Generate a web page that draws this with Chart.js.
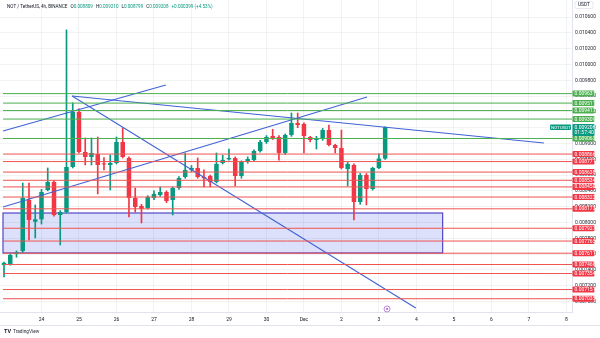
<!DOCTYPE html>
<html>
<head>
<meta charset="utf-8">
<title>NOT / TetherUS 4h</title>
<script src="https://cdn.jsdelivr.net/npm/chart.js@4.4.1/dist/chart.umd.min.js"></script>
<style>
  html, body { margin: 0; padding: 0; background: #ffffff; }
  #wrap { position: relative; width: 600px; height: 338px; }
  #chart { display: block; width: 600px; height: 338px; }
</style>
</head>
<body>
<div id="wrap"><canvas id="chart" width="600" height="338"></canvas></div>
<script>
// 4h candles from 23 Nov 00:00 to 3 Dec 04:00
const opens  = [0.007460,0.007475,0.007600,0.007640,0.008285,0.008010,0.008040,0.008411,0.008513,0.008095,
                0.008133,0.008703,0.009399,0.008892,0.008829,0.008867,0.008741,0.008728,0.008753,0.009019,
                0.008816,0.008310,0.008209,0.008184,0.008310,0.008348,0.008386,0.008285,0.008437,0.008576,
                0.008665,0.008690,0.008576,0.008589,0.008513,0.008753,0.008800,0.008816,0.008589,0.008766,
                0.008791,0.008905,0.009019,0.009095,0.009082,0.008880,0.009108,0.009259,0.009247,0.009082,
                0.009044,0.009057,0.009171,0.008981,0.008943,0.008677,0.008728,0.008259,0.008601,0.008424,
                0.008690,0.008809];
const highs  = [0.007500,0.007600,0.007640,0.008500,0.008500,0.008222,0.008420,0.008690,0.008530,0.008150,
                0.010437,0.009513,0.009440,0.009070,0.009070,0.009082,0.008820,0.008854,0.009082,0.009196,
                0.008830,0.008437,0.008230,0.008340,0.008400,0.008450,0.008400,0.008450,0.008580,0.008880,
                0.008720,0.008816,0.008665,0.008600,0.008880,0.008850,0.008930,0.008830,0.008780,0.008830,
                0.008920,0.009040,0.009100,0.009180,0.009100,0.009120,0.009386,0.009386,0.009260,0.009090,
                0.009090,0.009190,0.009234,0.008990,0.009170,0.008760,0.008741,0.008620,0.008620,0.008700,
                0.008870,0.009210];
const lows   = [0.007310,0.007460,0.007560,0.007620,0.007778,0.007804,0.007980,0.008400,0.008080,0.007715,
                0.008120,0.008690,0.008880,0.008728,0.008728,0.008361,0.008665,0.008411,0.008740,0.008816,
                0.008070,0.008133,0.007994,0.008170,0.008290,0.008330,0.008250,0.008095,0.008420,0.008560,
                0.008640,0.008560,0.008450,0.008450,0.008500,0.008740,0.008790,0.008462,0.008560,0.008750,
                0.008780,0.008890,0.009000,0.009050,0.008790,0.008860,0.009090,0.009200,0.008880,0.009020,
                0.008930,0.009040,0.008970,0.008880,0.008677,0.008462,0.008032,0.008230,0.008222,0.008410,
                0.008680,0.008799];
const closes = [0.007490,0.007589,0.007620,0.008310,0.008032,0.008040,0.008386,0.008513,0.008095,0.008133,
                0.008703,0.009399,0.008892,0.008829,0.008880,0.008728,0.008735,0.008753,0.009019,0.008829,
                0.008310,0.008196,0.008171,0.008323,0.008361,0.008386,0.008272,0.008437,0.008563,0.008665,
                0.008690,0.008576,0.008560,0.008513,0.008741,0.008791,0.008816,0.008589,0.008766,0.008804,
                0.008905,0.009019,0.009082,0.009070,0.008880,0.009108,0.009259,0.009234,0.009095,0.009044,
                0.009050,0.009171,0.008981,0.008943,0.008690,0.008741,0.008259,0.008601,0.008424,0.008690,
                0.008809,0.009208];

// support / resistance levels
const greenLevels = [0.009631, 0.009511, 0.009417, 0.009309, 0.009063];
const redLevels = [0.008866, 0.008771, 0.008638, 0.008534, 0.008450, 0.008322, 0.008173,
                   0.007927, 0.007765, 0.007611, 0.007468, 0.007354, 0.007151, 0.007035];

// trend lines, [candle index, price] pairs
const trendA = [[-0.16, 0.009158], [25.9, 0.009740]];
const trendB = [[10.9, 0.009601], [86.4, 0.009006]];
const trendC = [[10.9, 0.009601], [65.9, 0.006918]];
const trendD = [[-0.16, 0.008196], [58.1, 0.009589]];

// demand zone
const zoneX = [-0.16, 70.2];
const zoneY = [0.007614, 0.008120];

// axes
const priceTicks = [0.0106, 0.0104, 0.0102, 0.0100, 0.0098, 0.0096, 0.0094, 0.0092, 0.0090, 0.0088,
                    0.0086, 0.0084, 0.0082, 0.0080, 0.0078, 0.0076, 0.0074, 0.0072, 0.0070];
const dayLabels = ['24', '25', '26', '27', '28', '29', '30', 'Dec', '2', '3', '4', '5', '6', '7', '8'];
const candlesPerDay = 6;
const firstDayIndex = 6;
const dayTicks = dayLabels.map((_, k) => firstDayIndex + k * candlesPerDay);

const xMin = -0.64, xMax = 90.9;
const yMin = 0.006867, yMax = 0.010816;
const lineStart = -0.16;

const upColor = '#089981';
const downColor = '#f23645';
const greenLine = '#4caf50';
const redLine = '#ef5350';
const trendColor = '#3f63d6';

Chart.defaults.font.family = 'Roboto, "Liberation Sans", sans-serif';

const candleColor = ctx => {
  const i = ctx.dataIndex;
  return closes[i] >= opens[i] ? upColor : downColor;
};

const wicks = opens.map((o, i) => ({ x: i, y: [lows[i], highs[i]] }));
const bodies = opens.map((o, i) => ({ x: i, y: [o, closes[i]] }));

const levelSet = (levels, color) => levels.map(lvl => ({
  type: 'line',
  data: [{ x: lineStart, y: lvl }, { x: xMax, y: lvl }],
  borderColor: color,
  borderWidth: 1,
  pointRadius: 0,
  fill: false,
  order: 0
}));

const trendSet = pts => ({
  type: 'line',
  data: pts.map(p => ({ x: p[0], y: p[1] })),
  borderColor: trendColor,
  borderWidth: 1.1,
  pointRadius: 0,
  fill: false,
  order: 0
});

const datasets = [
  {
    type: 'bar',
    data: wicks,
    backgroundColor: candleColor,
    barThickness: 1,
    grouped: false,
    order: 3
  },
  {
    type: 'bar',
    data: bodies,
    backgroundColor: candleColor,
    barPercentage: 0.72,
    categoryPercentage: 1,
    minBarLength: 1,
    grouped: false,
    order: 2
  },
  ...levelSet(greenLevels, greenLine),
  ...levelSet(redLevels, redLine),
  trendSet(trendA),
  trendSet(trendB),
  trendSet(trendC),
  trendSet(trendD)
];

function roundRect(ctx, x, y, w, h, r) {
  ctx.beginPath();
  ctx.moveTo(x + r, y);
  ctx.lineTo(x + w - r, y);
  ctx.quadraticCurveTo(x + w, y, x + w, y + r);
  ctx.lineTo(x + w, y + h - r);
  ctx.quadraticCurveTo(x + w, y + h, x + w - r, y + h);
  ctx.lineTo(x + r, y + h);
  ctx.quadraticCurveTo(x, y + h, x, y + h - r);
  ctx.lineTo(x, y + r);
  ctx.quadraticCurveTo(x, y, x + r, y);
  ctx.closePath();
}

function tag(ctx, x, y, text, bg) {
  ctx.fillStyle = bg;
  roundRect(ctx, x, y - 3, 22, 6, 1);
  ctx.fill();
  ctx.fillStyle = '#ffffff';
  ctx.font = '5px Roboto, sans-serif';
  ctx.textBaseline = 'middle';
  ctx.textAlign = 'left';
  ctx.fillText(text, x + 2, y + 0.3);
}

// drop the label padding Chart.js reserves around the plot
const noPadding = s => { s.paddingLeft = 0; s.paddingRight = 0; s.paddingTop = 0; s.paddingBottom = 0; };

const overlay = {
  id: 'overlay',
  beforeDatasetsDraw(chart) {
    const { ctx, scales: { x, y } } = chart;
    const l = x.getPixelForValue(zoneX[0]), r = x.getPixelForValue(zoneX[1]);
    const t = y.getPixelForValue(zoneY[1]), b = y.getPixelForValue(zoneY[0]);
    ctx.save();
    ctx.fillStyle = 'rgba(80, 100, 230, 0.2)';
    ctx.fillRect(l, t, r - l, b - t);
    ctx.strokeStyle = '#5046c9';
    ctx.lineWidth = 1.2;
    ctx.strokeRect(l, t, r - l, b - t);
    ctx.restore();
  },
  afterDraw(chart) {
    const { ctx, chartArea, scales: { x, y } } = chart;
    const ax = chartArea.right + 0.5;
    ctx.save();

    // level tags on the price axis
    greenLevels.forEach(v => tag(ctx, ax, y.getPixelForValue(v), v.toFixed(6), greenLine));
    redLevels.forEach(v => tag(ctx, ax, y.getPixelForValue(v), v.toFixed(6), downColor));

    // last price tag with countdown
    const last = closes.length - 1;
    const py = y.getPixelForValue(closes[last]);
    ctx.fillStyle = upColor;
    roundRect(ctx, ax, py - 3, 22, 12, 1);
    ctx.fill();
    roundRect(ctx, chartArea.right - 22, py - 2.5, 21, 5.5, 1);
    ctx.fill();
    ctx.fillStyle = '#ffffff';
    ctx.font = '5px Roboto, sans-serif';
    ctx.textBaseline = 'middle';
    ctx.fillText(closes[last].toFixed(6), ax + 2, py + 0.3);
    ctx.fillText('01:57:40', ax + 2, py + 6);
    ctx.font = '4.4px Roboto, sans-serif';
    ctx.fillText('NOTUSDT', chartArea.right - 21, py + 0.4);

    // header
    const o = opens[last], h = highs[last], lo = lows[last], c = closes[last];
    const chg = c - closes[last - 1];
    const pct = chg / closes[last - 1] * 100;
    ctx.textBaseline = 'middle';
    ctx.font = '4.6px Roboto, sans-serif';
    ctx.fillStyle = '#131722';
    const title = 'NOT / TetherUS, 4h, BINANCE';
    ctx.fillText(title, 7, 7);
    let hx = 7 + ctx.measureText(title).width + 3;
    const parts = [['O', o.toFixed(6)], ['H', h.toFixed(6)], ['L', lo.toFixed(6)], ['C', c.toFixed(6)]];
    parts.forEach(([k, v]) => {
      ctx.fillStyle = '#131722';
      ctx.fillText(k, hx, 7);
      hx += ctx.measureText(k).width;
      ctx.fillStyle = upColor;
      ctx.fillText(v, hx, 7);
      hx += ctx.measureText(v).width + 3;
    });
    ctx.fillStyle = upColor;
    ctx.fillText((chg >= 0 ? '+' : '') + chg.toFixed(6) + ' (' + (pct >= 0 ? '+' : '') + pct.toFixed(2) + '%)', hx, 7);

    // currency box
    ctx.strokeStyle = '#e0e3eb';
    ctx.lineWidth = 0.8;
    roundRect(ctx, 575, 1.5, 18, 7, 1.5);
    ctx.stroke();
    ctx.fillStyle = '#131722';
    ctx.font = '4.8px Roboto, sans-serif';
    ctx.fillText('USDT', 578, 5.2);

    // event marker
    const mx = x.getPixelForValue(last + 0.3);
    const my = chartArea.bottom - 3;
    ctx.strokeStyle = '#b06ad8';
    ctx.lineWidth = 0.8;
    ctx.beginPath();
    ctx.arc(mx, my, 3, 0, Math.PI * 2);
    ctx.stroke();
    ctx.fillStyle = '#b06ad8';
    ctx.beginPath();
    ctx.arc(mx, my, 1.1, 0, Math.PI * 2);
    ctx.fill();

    // bottom frame line
    ctx.strokeStyle = '#e0e3eb';
    ctx.lineWidth = 1;
    ctx.beginPath();
    ctx.moveTo(0, 325.5);
    ctx.lineTo(chartArea.right + 28, 325.5);
    ctx.stroke();

    // logo
    ctx.fillStyle = '#131722';
    ctx.font = 'bold 5.5px Roboto, sans-serif';
    ctx.fillText('TV', 4, 332);
    ctx.font = '4.8px Roboto, sans-serif';
    ctx.fillStyle = '#2a2e39';
    ctx.fillText('TradingView', 13, 332);
    ctx.restore();
  }
};

new Chart(document.getElementById('chart'), {
  data: { datasets },
  options: {
    responsive: false,
    animation: false,
    devicePixelRatio: 1,
    layout: { padding: { left: 0, right: 0, top: 0, bottom: 12 } },
    plugins: { legend: { display: false }, tooltip: { enabled: false } },
    scales: {
      x: {
        type: 'linear',
        offset: false,
        min: xMin,
        max: xMax,
        afterBuildTicks: s => { s.ticks = dayTicks.map(v => ({ value: v })); },
        afterFit: s => { s.height = 14; noPadding(s); },
        grid: { color: 'rgba(42, 46, 57, 0.06)', drawTicks: false, offset: false },
        border: { color: '#e0e3eb' },
        ticks: {
          autoSkip: false,
          maxRotation: 0,
          padding: 5,
          color: '#131722',
          font: { size: 5 },
          callback: (v, i) => dayLabels[i]
        }
      },
      y: {
        type: 'linear',
        position: 'right',
        min: yMin,
        max: yMax,
        afterBuildTicks: s => { s.ticks = priceTicks.map(v => ({ value: v })); },
        afterFit: s => { s.width = 28; noPadding(s); },
        grid: { color: 'rgba(42, 46, 57, 0.06)', drawTicks: false },
        border: { color: '#e0e3eb' },
        ticks: {
          padding: 3,
          color: '#2a2e39',
          font: { size: 5 },
          callback: v => v.toFixed(6)
        }
      }
    }
  },
  plugins: [overlay]
});
</script>
</body>
</html>
